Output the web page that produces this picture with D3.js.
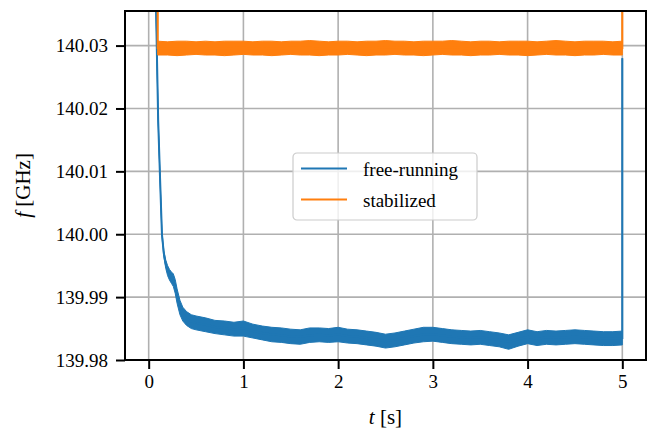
<!DOCTYPE html>
<html>
<head>
<meta charset="utf-8">
<script src="https://cdn.jsdelivr.net/npm/d3@7"></script>
<style>
  body { margin: 0; background: #fff; }
  svg { display: block; }
  svg text { fill: #000; }
</style>
</head>
<body>
<div id="chart"></div>
<script>
// free-running trace: time [s], upper / lower edge of the noisy band [GHz]
const blueT = [0.06, 0.10, 0.12, 0.14, 0.16, 0.18, 0.20, 0.22, 0.24, 0.26, 0.28, 0.30, 0.33, 0.36, 0.40, 0.45,
  0.5, 0.6, 0.7, 0.8, 0.9, 1.0, 1.1, 1.2, 1.3, 1.4, 1.5, 1.6, 1.7, 1.8, 1.9, 2.0, 2.1, 2.2, 2.3, 2.4, 2.5,
  2.6, 2.7, 2.8, 2.9, 3.0, 3.1, 3.2, 3.3, 3.4, 3.5, 3.6, 3.7, 3.8, 3.9, 4.0, 4.1, 4.2, 4.3, 4.4, 4.5,
  4.6, 4.7, 4.8, 4.9, 5.0, 5.0];
const blueHi = [140.050, 140.0185, 140.0092, 140.0004, 139.9974, 139.9959, 139.9950, 139.9944, 139.9940, 139.9937,
  139.9928, 139.9913, 139.9895, 139.9884, 139.9877, 139.9872,
  139.9870, 139.9867, 139.9863, 139.9862, 139.9860, 139.9862, 139.9857, 139.9854, 139.9852, 139.9851, 139.9849,
  139.9848, 139.9851, 139.9851, 139.9850, 139.9852, 139.9849, 139.9848, 139.9846, 139.9844, 139.9841,
  139.9843, 139.9846, 139.9849, 139.9852, 139.9852, 139.9850, 139.9848, 139.9847, 139.9846, 139.9847,
  139.9845, 139.9843, 139.9840, 139.9844, 139.9848, 139.9845, 139.9847, 139.9846, 139.9847, 139.9848,
  139.9847, 139.9846, 139.9845, 139.9845, 139.9846, 140.0280];
const blueLo = [140.050, 140.0178, 140.0086, 139.9996, 139.9964, 139.9946, 139.9934, 139.9927, 139.9922, 139.9917,
  139.9906, 139.9890, 139.9872, 139.9862, 139.9855, 139.9850,
  139.9848, 139.9845, 139.9842, 139.9840, 139.9838, 139.9838, 139.9835, 139.9832, 139.9829, 139.9828, 139.9826,
  139.9825, 139.9828, 139.9829, 139.9828, 139.9829, 139.9827, 139.9826, 139.9824, 139.9822, 139.9819,
  139.9821, 139.9824, 139.9827, 139.9829, 139.9830, 139.9828, 139.9826, 139.9825, 139.9824, 139.9825,
  139.9823, 139.9821, 139.9817, 139.9822, 139.9826, 139.9823, 139.9825, 139.9824, 139.9825, 139.9826,
  139.9825, 139.9824, 139.9823, 139.9823, 139.9824, 140.0280];

// stabilized trace
const orangeT = [0.095, 0.095, 0.2, 0.3, 0.4, 0.5, 0.6, 0.7, 0.8, 0.9, 1.0, 1.1, 1.2, 1.3, 1.4, 1.5, 1.6, 1.7,
  1.8, 1.9, 2.0, 2.1, 2.2, 2.3, 2.4, 2.5, 2.6, 2.7, 2.8, 2.9, 3.0, 3.1, 3.2, 3.3, 3.4, 3.5, 3.6, 3.7,
  3.8, 3.9, 4.0, 4.1, 4.2, 4.3, 4.4, 4.5, 4.6, 4.7, 4.8, 4.9, 5.0, 5.0];
const orangeHi = [140.050, 140.0307, 140.0306, 140.0307, 140.0307, 140.0306, 140.0307, 140.0306, 140.0307,
  140.0307, 140.0307, 140.0306, 140.0307, 140.0307, 140.0306, 140.0307, 140.0307, 140.0308, 140.0307,
  140.0306, 140.0307, 140.0307, 140.0306, 140.0307, 140.0307, 140.0308, 140.0307, 140.0307, 140.0306,
  140.0307, 140.0307, 140.0307, 140.0308, 140.0307, 140.0306, 140.0307, 140.0307, 140.0306, 140.0307,
  140.0307, 140.0307, 140.0306, 140.0307, 140.0308, 140.0307, 140.0306, 140.0307, 140.0307, 140.0307,
  140.0306, 140.0307, 140.050];
const orangeLo = [140.050, 140.0285, 140.0285, 140.0284, 140.0285, 140.0286, 140.0285, 140.0285, 140.0284,
  140.0285, 140.0286, 140.0285, 140.0285, 140.0284, 140.0285, 140.0286, 140.0285, 140.0285, 140.0284,
  140.0285, 140.0285, 140.0286, 140.0285, 140.0284, 140.0285, 140.0285, 140.0286, 140.0285, 140.0285,
  140.0284, 140.0285, 140.0286, 140.0285, 140.0285, 140.0284, 140.0285, 140.0285, 140.0286, 140.0285,
  140.0285, 140.0284, 140.0285, 140.0286, 140.0285, 140.0285, 140.0284, 140.0285, 140.0285, 140.0286,
  140.0285, 140.0285, 140.050];

const xTicks = [0, 1, 2, 3, 4, 5];
const yTicks = [139.98, 139.99, 140.00, 140.01, 140.02, 140.03];
const seriesNames = ["free-running", "stabilized"];
const colors = ["#1f77b4", "#ff7f0e"];

const width = 647;
const height = 435;
const margin = { top: 11, right: 1, bottom: 75, left: 125 };
const innerWidth = width - margin.left - margin.right;
const innerHeight = height - margin.top - margin.bottom;
const serif = "'Liberation Serif', 'Times New Roman', 'DejaVu Serif', serif";

const svg = d3.select("#chart").append("svg")
  .attr("width", width)
  .attr("height", height)
  .attr("font-family", serif);

const x = d3.scaleLinear().domain([-0.25, 5.25]).range([0, innerWidth]);
const y = d3.scaleLinear().domain([139.98, 140.0355]).range([innerHeight, 0]);

const g = svg.append("g").attr("transform", `translate(${margin.left},${margin.top})`);

g.append("clipPath").attr("id", "clip")
  .append("rect").attr("width", innerWidth).attr("height", innerHeight);

// grid
g.append("g").selectAll("line").data(xTicks).enter().append("line")
  .attr("x1", d => x(d)).attr("x2", d => x(d))
  .attr("y1", 0).attr("y2", innerHeight)
  .attr("stroke", "#b0b0b0").attr("stroke-width", 1.6);
g.append("g").selectAll("line").data(yTicks).enter().append("line")
  .attr("x1", 0).attr("x2", innerWidth)
  .attr("y1", d => y(d)).attr("y2", d => y(d))
  .attr("stroke", "#b0b0b0").attr("stroke-width", 1.6);

const plot = g.append("g").attr("clip-path", "url(#clip)");

function drawBand(ts, hi, lo, color) {
  const pts = ts.map((t, i) => ({ t: t, hi: hi[i], lo: lo[i] }));
  plot.append("path")
    .datum(pts)
    .attr("fill", color)
    .attr("stroke", color)
    .attr("stroke-width", 1)
    .attr("d", d3.area().x(d => x(d.t)).y0(d => y(d.lo)).y1(d => y(d.hi)));
  plot.append("path")
    .datum(pts)
    .attr("fill", "none")
    .attr("stroke", color)
    .attr("stroke-width", 2)
    .attr("d", d3.line().x(d => x(d.t)).y(d => y((d.hi + d.lo) / 2)));
}

drawBand(blueT, blueHi, blueLo, colors[0]);
drawBand(orangeT, orangeHi, orangeLo, colors[1]);

// axes
const xAxis = g.append("g")
  .attr("transform", `translate(0,${innerHeight})`)
  .call(d3.axisBottom(x).tickValues(xTicks).tickFormat(d3.format("d")).tickSize(9).tickSizeOuter(0).tickPadding(6));
const yAxis = g.append("g")
  .call(d3.axisLeft(y).tickValues(yTicks).tickFormat(d3.format(".2f")).tickSize(9).tickSizeOuter(0).tickPadding(8));

[xAxis, yAxis].forEach(ax => {
  ax.attr("font-family", serif).attr("font-size", 19);
  ax.select(".domain").remove();
  ax.selectAll(".tick line").attr("stroke", "#000").attr("stroke-width", 2);
});

// frame
g.append("rect")
  .attr("width", innerWidth).attr("height", innerHeight)
  .attr("fill", "none").attr("stroke", "#000").attr("stroke-width", 2);

// axis labels
const xl = svg.append("text")
  .attr("x", margin.left + innerWidth / 2).attr("y", 424)
  .attr("text-anchor", "middle").attr("font-size", "21px");
xl.append("tspan").attr("font-style", "italic").text("t");
xl.append("tspan").text(" [s]");

const yl = svg.append("text")
  .attr("transform", `translate(30,${margin.top + innerHeight / 2}) rotate(-90)`)
  .attr("text-anchor", "middle").attr("font-size", "21px");
yl.append("tspan").attr("font-style", "italic").text("f");
yl.append("tspan").text(" [GHz]");

// legend
const lg = svg.append("g").attr("transform", "translate(293,153)");
lg.append("rect")
  .attr("width", 184).attr("height", 67).attr("rx", 4)
  .attr("fill", "rgba(255,255,255,0.8)").attr("stroke", "#cccccc").attr("stroke-width", 1.2);
seriesNames.forEach((name, i) => {
  const row = lg.append("g").attr("transform", `translate(0,${15.5 + i * 31})`);
  row.append("line").attr("x1", 8).attr("x2", 54).attr("y1", 0).attr("y2", 0)
    .attr("stroke", colors[i]).attr("stroke-width", 2);
  row.append("text").attr("x", 70).attr("y", 7).attr("font-size", "19px").text(name);
});
</script>
</body>
</html>
